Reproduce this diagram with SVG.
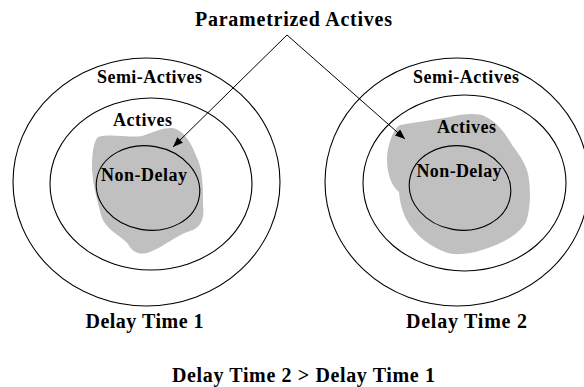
<svg xmlns="http://www.w3.org/2000/svg" width="584" height="387" viewBox="0 0 584 387">
<defs>
<style>
.ring{fill:none;stroke:#000;stroke-width:1.1}
.blob{fill:#c0c0c0;stroke:none}
.lbl{font-family:"Liberation Serif","Times New Roman",serif;font-weight:bold;font-size:18px;fill:#000;text-anchor:middle}
.big{font-size:20px}
.conn{fill:none;stroke:#000;stroke-width:1}
</style>
<marker id="ah" viewBox="0 0 10 8" refX="10" refY="4" markerWidth="10" markerHeight="8" markerUnits="userSpaceOnUse" orient="auto">
<path d="M0,0 L10,4 L0,8 Z" fill="#000"/>
</marker>
</defs>
<rect width="584" height="387" fill="#fff"/>

<g id="delay1">
<ellipse class="ring" cx="146.5" cy="182" rx="133.5" ry="124"/>
<ellipse class="ring" cx="151" cy="184" rx="101" ry="86"/>
<path class="blob" d="M98,137 C110,133 130,138 142,136 C152,133 160,128 172,128 C185,130 192,145 198,160 C203,172 203,190 203,205 C205,220 200,228 190,231 C175,236 165,246 150,252 C140,256 132,252 128,244 C122,236 105,230 101,215 C97,200 93,185 92,170 C92,155 93,142 98,137 Z"/>
<ellipse class="ring" cx="148" cy="188" rx="52" ry="42" transform="rotate(10 148 188)"/>
<text class="lbl" x="149.5" y="83" textLength="105" lengthAdjust="spacing">Semi-Actives</text>
<text class="lbl" x="142.5" y="126" textLength="59" lengthAdjust="spacing">Actives</text>
<text class="lbl" x="144" y="181" textLength="86" lengthAdjust="spacing">Non-Delay</text>
<text class="lbl big" x="144.5" y="328" textLength="118" lengthAdjust="spacing">Delay Time 1</text>
</g>

<g id="delay2">
<ellipse class="ring" cx="457" cy="182" rx="132" ry="124"/>
<ellipse class="ring" cx="464.5" cy="183" rx="101.5" ry="88"/>
<path class="blob" d="M400,125 C415,122 435,120 450,117 C462,114 472,113 482,115 C495,120 505,132 512,145 C522,158 528,168 529,180 C531,195 530,210 526,222 C518,236 500,244 482,250 C470,254 455,256 445,252 C430,246 420,238 412,228 C404,218 400,205 399,192 C390,185 387,170 387,160 C387,148 392,130 400,125 Z"/>
<ellipse class="ring" cx="460" cy="188" rx="51" ry="42" transform="rotate(10 460 188)"/>
<text class="lbl" x="466" y="83" textLength="106" lengthAdjust="spacing">Semi-Actives</text>
<text class="lbl" x="466.5" y="133" textLength="59" lengthAdjust="spacing">Actives</text>
<text class="lbl" x="459" y="177" textLength="85" lengthAdjust="spacing">Non-Delay</text>
<text class="lbl big" x="466.5" y="328" textLength="121" lengthAdjust="spacing">Delay Time 2</text>
</g>

<g id="param">
<text class="lbl big" x="293.5" y="26" textLength="197" lengthAdjust="spacing">Parametrized Actives</text>
</g>

<g id="connectors">
<path class="conn" d="M287,35 L173,147" marker-end="url(#ah)"/>
<path class="conn" d="M287,35 L405,139" marker-end="url(#ah)"/>
</g>

<g id="caption">
<text class="lbl big" x="303.5" y="382" textLength="263" lengthAdjust="spacing">Delay Time 2 &gt; Delay Time 1</text>
</g>
</svg>
